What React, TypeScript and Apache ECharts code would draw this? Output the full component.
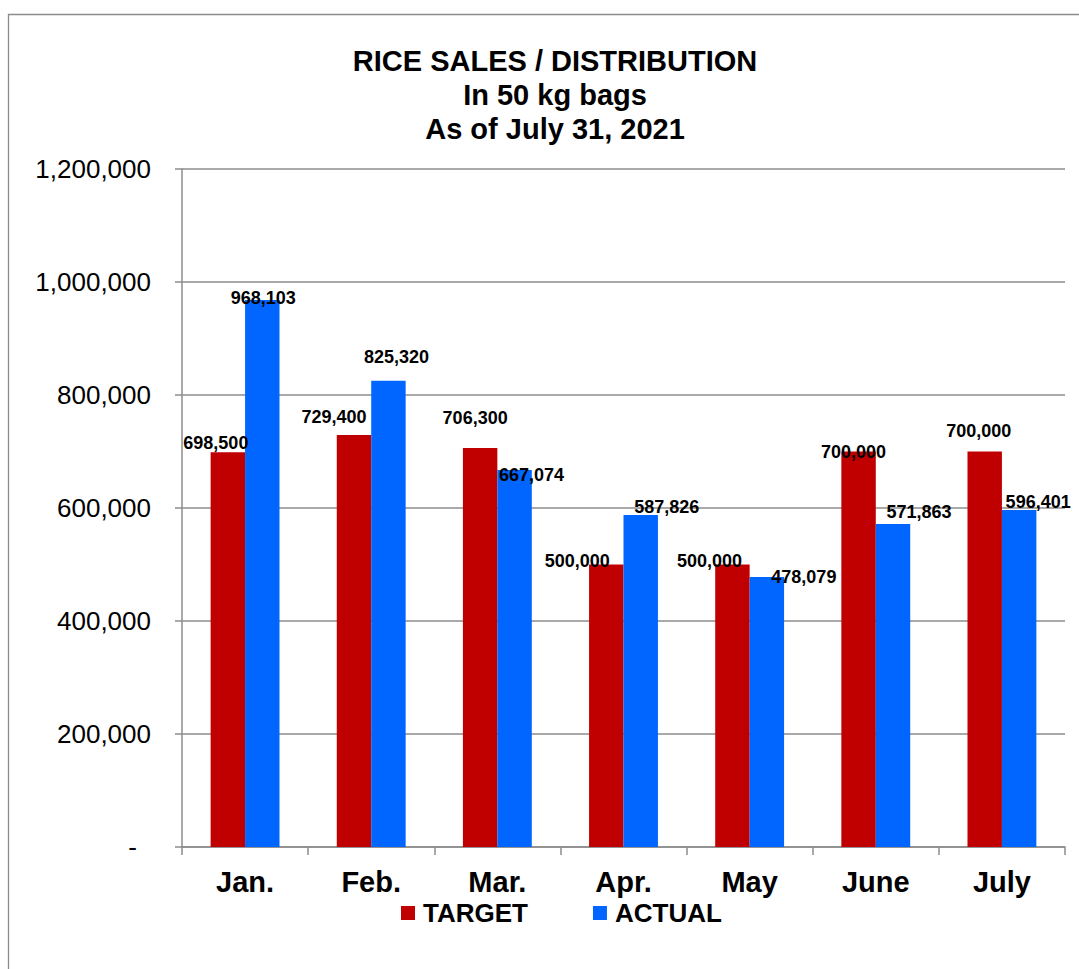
import React, { useEffect, useRef } from "react";
import * as echarts from "echarts";

const months = ["Jan.", "Feb.", "Mar.", "Apr.", "May", "June", "July"];
const target = [698500, 729400, 706300, 500000, 500000, 700000, 700000];
const actual = [968103, 825320, 667074, 587826, 478079, 571863, 596401];
const titleLines = ["RICE SALES / DISTRIBUTION", "In 50 kg bags", "As of July 31, 2021"];
const seriesNames = ["TARGET", "ACTUAL"];
const yMax = 1200000;
const yStep = 200000;

// label offsets (layout only) relative to top-centre of each bar
const targetLabelOffsets = [[-12, -9], [-20, -18], [-5, -30], [-29, -4], [-23, -4], [-5, 0], [-6, -21]];
const actualLabelOffsets = [[1, -2], [8, -24], [17, 5], [26, -8], [37, 0], [26, -12], [19, -8]];

const FONT = "'Liberation Sans', Arial, sans-serif";
const fmt = (v: number) => v.toLocaleString("en-US");

export default function App() {
  const ref = useRef<HTMLDivElement>(null);
  useEffect(() => {
    document.body.style.margin = "0";
    const chart = echarts.init(ref.current!, null, { renderer: "svg" });
    const mk = (vals: number[], offs: number[][]) =>
      vals.map((v, i) => ({ value: v, label: { offset: offs[i] } }));
    const labelBase = {
      show: true,
      position: ["50%", 0],
      align: "center",
      verticalAlign: "middle",
      fontFamily: FONT,
      fontWeight: "bold",
      fontSize: 18,
      color: "#000",
      formatter: (p: any) => fmt(p.value),
    };
    chart.setOption({
      animation: false,
      backgroundColor: "#fff",
      graphic: [
        {
          type: "rect",
          shape: { x: 8.5, y: 14.5, width: 1200, height: 1200 },
          style: { fill: "none", stroke: "#8c8c8c", lineWidth: 1.3 },
          silent: true,
        },
        {
          type: "text",
          x: 555,
          y: 44,
          style: {
            text: titleLines.join("\n"),
            textAlign: "center",
            align: "center",
            textVerticalAlign: "top",
            verticalAlign: "top",
            fontSize: 29,
            fontWeight: "bold",
            fontFamily: FONT,
            lineHeight: 34,
            fill: "#000",
          },
        },
      ],
      legend: {
        data: seriesNames,
        left: 396,
        top: 893,
        itemWidth: 14,
        itemHeight: 14,
        itemGap: 65,
        icon: "rect",
        textStyle: {
          fontFamily: FONT,
          fontWeight: "bold",
          fontSize: 26,
          color: "#000",
          lineHeight: 30,
          padding: [0, 0, 0, 3],
        },
      },
      grid: { left: 182, right: 14, top: 169, bottom: 122, containLabel: false },
      xAxis: {
        type: "category",
        data: months,
        axisLine: { lineStyle: { color: "#8c8c8c", width: 1.5 } },
        axisTick: { show: true, length: 8, lineStyle: { color: "#8c8c8c", width: 1.5 } },
        axisLabel: {
          fontFamily: FONT,
          fontWeight: "bold",
          fontSize: 29,
          color: "#000",
          margin: 20,
        },
      },
      yAxis: {
        type: "value",
        min: 0,
        max: yMax,
        interval: yStep,
        axisLine: { show: true, lineStyle: { color: "#8c8c8c", width: 1.5 } },
        axisTick: { show: true, length: 7, lineStyle: { color: "#8c8c8c", width: 1.5 } },
        splitLine: { lineStyle: { color: "#8c8c8c", width: 1.5 } },
        axisLabel: {
          fontFamily: FONT,
          fontSize: 26,
          color: "#000",
          margin: 31,
          formatter: (v: number) => (v === 0 ? "{z|-}" : fmt(v)),
          rich: { z: { fontFamily: FONT, fontSize: 26, color: "#000", padding: [0, 14, 0, 0] } },
        },
      },
      series: [
        {
          name: seriesNames[0],
          type: "bar",
          data: mk(target, targetLabelOffsets),
          itemStyle: { color: "#C00000" },
          barWidth: "27.3%",
          barGap: "0%",
          label: labelBase,
        },
        {
          name: seriesNames[1],
          type: "bar",
          data: mk(actual, actualLabelOffsets),
          itemStyle: { color: "#0066FF" },
          barWidth: "27.3%",
          barGap: "0%",
          label: labelBase,
        },
      ],
    });
    return () => chart.dispose();
  }, []);
  return <div ref={ref} style={{ width: 1079, height: 969 }} />;
}
